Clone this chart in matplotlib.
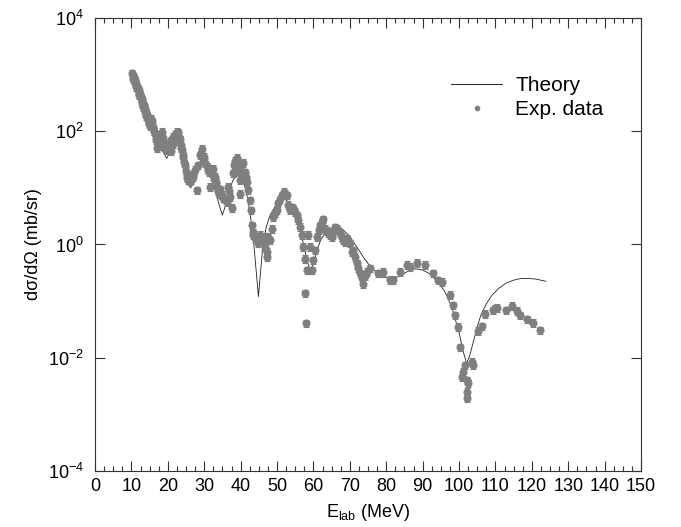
import numpy as np
import matplotlib
matplotlib.use('Agg')
import matplotlib.pyplot as plt
from matplotlib.lines import Line2D
from matplotlib.legend_handler import HandlerLine2D
from matplotlib.ticker import FixedLocator, MultipleLocator, NullLocator

plt.rcParams['font.family'] = ['Liberation Sans', 'DejaVu Sans']
plt.rcParams['mathtext.fontset'] = 'custom'
plt.rcParams['mathtext.rm'] = 'Liberation Sans'
plt.rcParams['mathtext.default'] = 'regular'

# theory curve (E in MeV, log10 of dsigma/dOmega)
theory_e = [10.0, 12.0, 14.0, 16.0, 17.5, 18.5, 19.7, 20.5, 21.5, 22.5, 23.2, 24.0,
            25.0, 25.8, 26.3, 27.0, 28.0, 29.0, 30.0, 31.0, 32.0, 33.0, 34.0, 35.0,
            36.0, 37.0, 38.0, 39.3, 40.5, 41.5, 42.5, 43.5, 44.9, 46.0, 47.0, 48.0,
            49.0, 50.0, 51.5, 52.5, 53.5, 54.5, 55.5, 56.5, 57.5, 58.3, 59.1, 60.0,
            61.0, 62.0, 63.0, 64.5, 66.4, 68.0, 70.0, 72.0, 74.0, 76.0, 78.0, 80.0,
            82.0, 84.0, 86.0, 88.0, 90.0, 92.0, 94.0, 96.0, 98.0, 100.0, 101.2, 102.1,
            103.0, 104.0, 105.0, 106.0, 107.5, 109.0, 111.0, 113.0, 115.0, 117.0,
            119.0, 121.0, 123.9]
theory_log10 = [3.05, 2.70, 2.35, 2.02, 1.80, 1.66, 1.52, 1.62, 1.85, 1.98, 1.92, 1.65,
                1.30, 1.05, 1.00, 1.12, 1.35, 1.48, 1.52, 1.45, 1.25, 0.98, 0.72, 0.52,
                0.72, 0.98, 1.15, 1.23, 1.15, 0.95, 0.60, 0.10, -0.92, -0.10, 0.30, 0.50,
                0.62, 0.72, 0.81, 0.79, 0.72, 0.62, 0.45, 0.22, -0.05, -0.30, -0.45, -0.35,
                -0.10, 0.08, 0.18, 0.27, 0.31, 0.27, 0.14, -0.05, -0.25, -0.42, -0.53, -0.59,
                -0.60, -0.55, -0.47, -0.43, -0.45, -0.52, -0.65, -0.82, -1.10, -1.55, -1.90, -2.10,
                -1.95, -1.70, -1.45, -1.25, -1.05, -0.90, -0.77, -0.68, -0.63, -0.60,
                -0.60, -0.61, -0.65]

# experimental points
exp_e = [10.2, 10.4, 10.6, 10.8, 11.0, 11.2, 11.4, 11.6, 11.8, 12.0, 12.2, 12.4, 12.6,
         12.8, 13.0, 13.2, 13.4, 13.6, 13.8, 14.0, 14.2, 14.4, 14.6, 14.8, 15.0, 15.3,
         15.6, 15.9, 16.2, 16.5, 16.9, 17.4, 17.1, 17.7, 18.0, 18.3, 18.6, 18.8, 19.2,
         19.5, 19.7, 20.0, 20.3, 20.6, 21.0, 21.3, 21.5, 21.9, 22.4, 22.9, 23.3, 23.6,
         23.9, 24.3, 24.7, 25.0, 25.2, 25.6, 26.1, 26.5, 27.0, 27.5, 27.9, 28.2, 28.8,
         29.3, 29.8, 30.2, 30.7, 31.1, 31.6, 32.1, 32.5, 32.8, 33.0, 33.5, 33.9, 34.4,
         34.8, 35.2, 35.7, 36.2, 36.6, 37.1, 37.6, 38.0, 38.5, 38.9, 39.3, 39.8, 39.9,
         40.3, 40.7, 41.1, 41.7, 42.1, 42.6, 42.8, 43.0, 43.3, 43.5, 43.9, 44.4, 44.9,
         45.3, 45.8, 46.2, 46.7, 46.7, 47.2, 47.2, 47.6, 48.1, 48.5, 49.0, 49.4, 49.9,
         50.4, 50.9, 51.3, 51.9, 52.3, 52.7, 53.1, 53.6, 54.1, 54.5, 54.9, 55.4, 55.8,
         56.3, 56.8, 57.2, 57.7, 57.7, 58.0, 58.2, 58.6, 59.1, 59.5, 60.0, 60.4, 60.9,
         61.4, 61.8, 62.3, 62.7, 63.2, 63.7, 64.1, 64.6, 65.0, 65.5, 65.9, 66.4, 66.8,
         67.3, 67.8, 68.2, 68.7, 69.1, 69.6, 70.0, 70.5, 70.9, 71.4, 71.9, 72.3, 72.8,
         73.3, 73.7, 74.2, 74.6, 75.5, 77.8, 78.8, 79.2, 81.0, 82.0, 83.8, 85.6, 86.5,
         88.4, 90.7, 92.9, 94.3, 95.2, 97.5, 98.4, 98.9, 99.8, 100.3, 100.7, 101.2,
         101.6, 102.1, 102.1, 102.1, 102.6, 103.7, 103.9, 105.3, 106.2, 107.1, 109.2,
         109.9, 110.3, 112.9, 114.5, 115.8, 116.7, 118.6, 120.4, 122.2,
         # second row of the dense band at low energy
         10.5, 10.9, 11.3, 11.7, 12.1, 12.5, 12.9, 13.3, 13.7, 14.1, 14.5, 14.9, 15.2,
         16.0, 16.7, 17.9, 18.4, 19.0, 19.9, 20.8, 21.7, 22.2, 22.6, 23.1, 23.6, 24.1,
         24.5, 25.4, 26.3, 26.8, 29.0, 30.0, 31.4, 33.2, 34.1, 36.9, 38.2, 39.0, 40.1,
         41.4]
exp_log10 = [3.02, 2.97, 2.96, 2.92, 2.90, 2.84, 2.83, 2.78, 2.76, 2.72, 2.66, 2.65, 2.60,
             2.57, 2.53, 2.47, 2.46, 2.40, 2.38, 2.34, 2.28, 2.28, 2.22, 2.20, 2.17, 2.22,
             2.18, 2.08, 2.00, 1.95, 1.93, 1.84, 1.70, 1.75, 1.90, 1.99, 1.88, 1.80, 1.74,
             1.66, 1.72, 1.68, 1.78, 1.72, 1.84, 1.78, 1.90, 1.94, 1.99, 1.98, 1.86, 1.76,
             1.66, 1.55, 1.40, 1.30, 1.22, 1.14, 1.12, 1.14, 1.24, 1.32, 0.96, 1.40, 1.58,
             1.69, 1.52, 1.44, 1.38, 1.32, 1.02, 1.26, 1.34, 1.16, 1.20, 1.02, 0.94, 0.98,
             0.88, 0.82, 0.80, 0.75, 1.02, 0.84, 0.65, 1.26, 1.48, 1.53, 1.30, 1.14, 0.90,
             1.20, 1.44, 1.28, 1.11, 0.96, 0.78, 0.60, 0.34, 0.22, 0.17, 0.12, 0.14, 0.02,
             0.17, 0.08, 0.14, 0.11, -0.04, -0.13, -0.22, 0.14, 0.08, 0.28, 0.49, 0.55, 0.61,
             0.73, 0.80, 0.87, 0.93, 0.90, 0.87, 0.70, 0.61, 0.66, 0.64, 0.58, 0.52, 0.43,
             0.31, 0.17, -0.04, -0.25, -0.86, -1.39, -0.45, 0.17, -0.04, -0.45, -0.28, -0.10, 0.14,
             0.25, 0.34, 0.40, 0.45, 0.28, 0.24, 0.20, 0.16, 0.14, 0.22, 0.30, 0.28, 0.25,
             0.20, 0.14, 0.08, 0.05, 0.11, 0.05, 0.02, -0.13, -0.10, -0.22, -0.33, -0.42, -0.51,
             -0.60, -0.69, -0.55, -0.48, -0.42, -0.51, -0.51, -0.48, -0.62, -0.62, -0.48, -0.36, -0.39,
             -0.32, -0.36, -0.51, -0.63, -0.66, -0.89, -1.07, -1.25, -1.45, -1.81, -2.34, -2.25,
             -2.13, -2.40, -2.60, -2.72, -2.45, -2.07, -2.12, -1.52, -1.44, -1.22, -1.16,
             -1.13, -1.12, -1.16, -1.08, -1.17, -1.25, -1.32, -1.38, -1.51,
             2.92, 2.85, 2.78, 2.72, 2.64, 2.58, 2.50, 2.42, 2.34, 2.27, 2.20, 2.13, 2.10,
             2.05, 1.85, 1.80, 1.74, 1.72, 1.70, 1.65, 1.82, 1.93, 1.94, 1.90, 1.70, 1.58,
             1.45, 1.18, 1.16, 1.20, 1.62, 1.55, 1.28, 1.10, 0.90, 0.95, 1.40, 1.40, 1.30,
             1.20]
rel_err = 0.15

x_ticks = np.arange(0, 151, 10)
y_ticks = [1e-4, 1e-2, 1e0, 1e2, 1e4]


class MarkerAtEnd(HandlerLine2D):
    # legend marker sits at the right end of the handle, like the original
    def get_xdata(self, legend, xdescent, ydescent, width, height, fontsize):
        xdata, _ = super().get_xdata(legend, xdescent, ydescent, width, height, fontsize)
        return xdata, [-xdescent + width * 0.97]


def main():
    theory_y = np.power(10.0, theory_log10)
    exp_y = np.power(10.0, exp_log10)

    fig = plt.figure(figsize=(6.81, 5.27), dpi=100)
    ax = fig.add_axes([0.1395, 0.1063, 0.8018, 0.8596])

    grey = '#7f7f7f'
    ax.plot(theory_e, theory_y, color='#222222', lw=0.6, zorder=2)
    ax.errorbar(exp_e, exp_y, yerr=exp_y * rel_err, fmt='o', color=grey, ms=4.8,
                mec=grey, elinewidth=0.8, capsize=2, capthick=0.8, zorder=3)

    ax.set_yscale('log')
    ax.set_xlim(0, 150)
    ax.set_ylim(1e-4, 1e4)
    ax.xaxis.set_major_locator(FixedLocator(x_ticks))
    ax.xaxis.set_minor_locator(MultipleLocator(2.5))
    ax.yaxis.set_major_locator(FixedLocator(y_ticks))
    ax.yaxis.set_minor_locator(NullLocator())
    ax.tick_params(which='both', direction='in', top=True, right=True,
                   labelsize=13, color='#333333')
    ax.tick_params(which='major', length=7, width=0.8, pad=5)
    ax.tick_params(axis='y', which='major', pad=8)
    ax.tick_params(which='minor', length=3.5, width=0.8)
    for s in ax.spines.values():
        s.set_linewidth(0.8)
        s.set_color('#333333')

    ax.set_xlabel('E$_{lab}$ (MeV)', fontsize=13, labelpad=5)
    ax.set_ylabel('dσ/dΩ (mb/sr)', fontsize=13, labelpad=4)

    h_theory = Line2D([], [], color='#222222', lw=0.7)
    h_exp = Line2D([], [], color=grey, marker='o', ms=3, ls='none')
    ax.legend([h_theory, h_exp], ['Theory', 'Exp. data'], loc='upper left',
              bbox_to_anchor=(0.633, 0.895), frameon=False, fontsize=15,
              handlelength=2.45, handletextpad=0.62, labelspacing=0.25, borderpad=0,
              handler_map={h_exp: MarkerAtEnd(numpoints=1)})

    fig.savefig('out.png', dpi=100)


if __name__ == '__main__':
    main()
